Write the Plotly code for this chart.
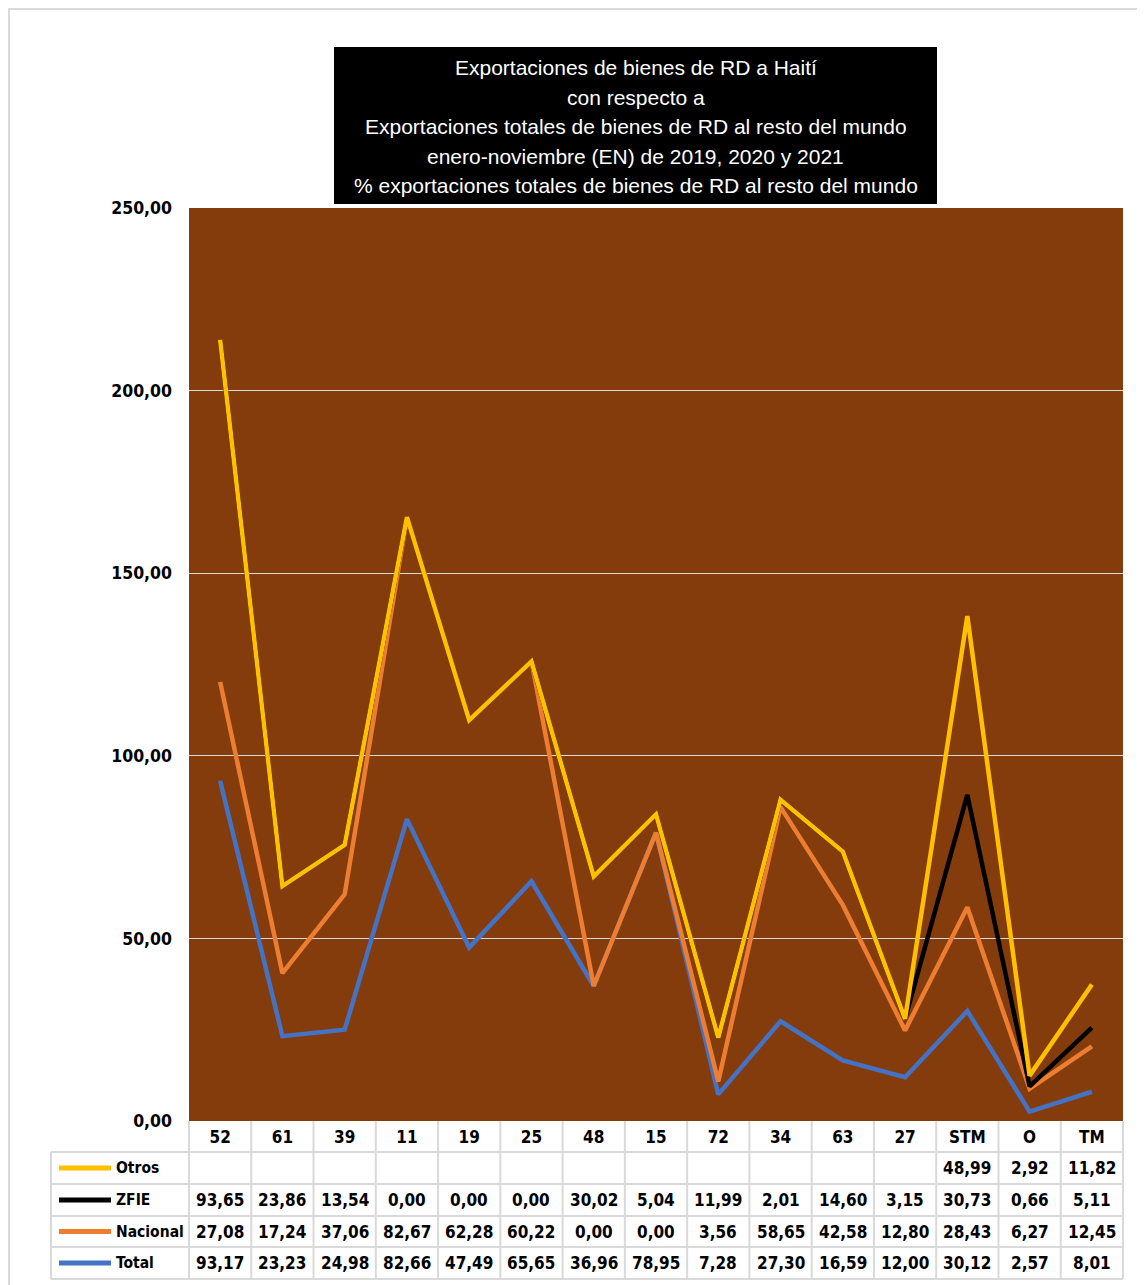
import plotly.graph_objects as go

categorias = ["52", "61", "39", "11", "19", "25", "48", "15", "72", "34", "63", "27", "STM", "O", "TM"]
otros = [None] * 12 + [48.99, 2.92, 11.82]
zfie = [93.65, 23.86, 13.54, 0.00, 0.00, 0.00, 30.02, 5.04, 11.99, 2.01, 14.60, 3.15, 30.73, 0.66, 5.11]
nacional = [27.08, 17.24, 37.06, 82.67, 62.28, 60.22, 0.00, 0.00, 3.56, 58.65, 42.58, 12.80, 28.43, 6.27, 12.45]
total = [93.17, 23.23, 24.98, 82.66, 47.49, 65.65, 36.96, 78.95, 7.28, 27.30, 16.59, 12.00, 30.12, 2.57, 8.01]

titulo = [
    "Exportaciones de bienes de RD a Haití",
    "con respecto a",
    "Exportaciones totales de bienes de RD al resto del mundo",
    "enero-noviembre (EN) de 2019, 2020 y 2021",
    "% exportaciones totales de bienes de RD al resto del mundo",
]

# the page body adds an 8px margin, so the figure is drawn 8px smaller
OFF = 8
W, H = 1145 - OFF, 1285 - OFF
L, R, T, B = 189 - OFF, 1123 - OFF, 208 - OFF, 1121 - OFF
FONT = "Liberation Sans Narrow, DejaVu Sans Condensed, Arial Narrow, sans-serif"


def px_x(px):
    return (px - OFF - L) / (R - L)


def px_y(py):
    return (B - (py - OFF)) / (B - T)


def fmt(v):
    return "" if v is None else f"{v:.2f}".replace(".", ",")


# stacked order: bottom first
series = [
    ("Total", total, "#4472C4"),
    ("Nacional", nacional, "#ED7D31"),
    ("ZFIE", zfie, "#000000"),
    ("Otros", otros, "#FFC000"),
]

fig = go.Figure()
for name, vals, color in series:
    fig.add_trace(go.Scatter(x=categorias, y=vals, name=name, mode="lines",
                             stackgroup="uno", fill="none",
                             line=dict(color=color, width=4.5)))

shapes = []
annotations = []
grid = "#d9d9d9"

# outer frame
shapes.append(dict(type="rect", xref="paper", yref="paper",
                   x0=px_x(9), x1=px_x(1160), y0=px_y(1300), y1=px_y(9),
                   line=dict(color=grid, width=2), layer="below"))

# title box
shapes.append(dict(type="rect", xref="paper", yref="paper",
                   x0=px_x(334), x1=px_x(937), y0=px_y(204), y1=px_y(47),
                   fillcolor="black", line=dict(width=0)))
for i, linea in enumerate(titulo):
    annotations.append(dict(text=linea, xref="paper", yref="paper",
                            x=px_x(635.5), y=px_y(68 + i * 29.5),
                            xanchor="center", yanchor="middle", showarrow=False,
                            font=dict(family="Liberation Sans, Arial, sans-serif", size=21, color="white")))

# data table
row_lines = [1152, 1184, 1216, 1247, 1279]
for py in row_lines:
    shapes.append(dict(type="line", xref="paper", yref="paper",
                       x0=px_x(51), x1=1, y0=px_y(py), y1=px_y(py),
                       line=dict(color=grid, width=2)))
for i in range(len(categorias) + 1):
    shapes.append(dict(type="line", xref="paper", yref="paper",
                       x0=i / len(categorias), x1=i / len(categorias),
                       y0=px_y(1121), y1=px_y(1279),
                       line=dict(color=grid, width=2)))
shapes.append(dict(type="line", xref="paper", yref="paper",
                   x0=px_x(51), x1=px_x(51), y0=px_y(1152), y1=px_y(1279),
                   line=dict(color=grid, width=2)))

tabla = [
    ("Otros", otros, "#FFC000"),
    ("ZFIE", zfie, "#000000"),
    ("Nacional", nacional, "#ED7D31"),
    ("Total", total, "#4472C4"),
]
for r, (name, vals, color) in enumerate(tabla):
    yc = px_y((row_lines[r] + row_lines[r + 1]) / 2)
    shapes.append(dict(type="line", xref="paper", yref="paper",
                       x0=px_x(59), x1=px_x(111), y0=yc, y1=yc,
                       line=dict(color=color, width=5)))
    annotations.append(dict(text=name, xref="paper", yref="paper",
                            x=px_x(114), y=yc, xanchor="left", yanchor="middle",
                            showarrow=False,
                            font=dict(family=FONT, size=15.5, color="black", weight="bold")))
    for i, v in enumerate(vals):
        # numeric index on the category axis (labels like "52" would be read as positions)
        annotations.append(dict(text=fmt(v), xref="x", yref="paper",
                                x=i, y=yc, xanchor="center", yanchor="middle",
                                showarrow=False,
                                font=dict(family=FONT, size=17, color="black", weight="bold")))

fig.update_layout(
    width=W, height=H,
    margin=dict(l=L, r=W - R, t=T, b=H - B),
    paper_bgcolor="white",
    plot_bgcolor="#843C0C",
    separators=",.",
    showlegend=False,
    shapes=shapes,
    annotations=annotations,
    xaxis=dict(type="category", categoryorder="array", categoryarray=categorias,
               range=[-0.5, len(categorias) - 0.5], showgrid=False, zeroline=False,
               tickfont=dict(family=FONT, size=17, color="black", weight="bold"),
               ticklabelstandoff=4),
    yaxis=dict(range=[0, 250], dtick=50, tickformat=".2f", showgrid=True,
               gridcolor="#d9d9d9", gridwidth=1, zeroline=False,
               tickfont=dict(family=FONT, size=17.5, color="black", weight="bold"),
               ticklabelstandoff=16),
)

fig.write_html("out.html")
